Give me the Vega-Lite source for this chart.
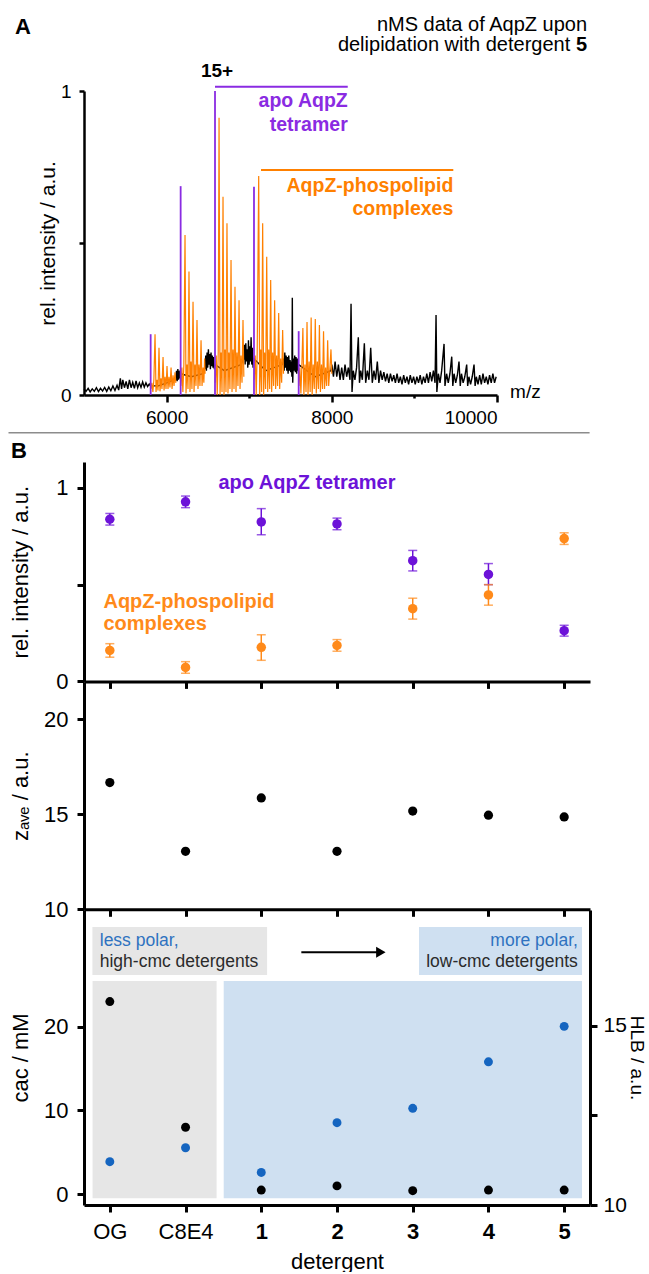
{
"$schema": "https://vega.github.io/schema/vega-lite/v6.json",
"padding": {"left": 7, "top": 15, "right": 2, "bottom": 0},
"config": {
  "font": "Liberation Sans",
  "view": {"stroke": null},
  "axis": {"grid": false, "domainColor": "#000", "tickColor": "#000", "labelColor": "#000", "titleColor": "#000", "titleFontWeight": "normal", "labelFont": "Liberation Sans", "titleFont": "Liberation Sans"}
},
"datasets": {
  "black": [
    {"m":5000,"i":0.02},{"m":5025,"i":0.012},{"m":5050,"i":0.022},{"m":5075,"i":0.01},{"m":5100,"i":0.02},{"m":5125,"i":0.012},{"m":5150,"i":0.024},{"m":5175,"i":0.011},{"m":5200,"i":0.022},{"m":5225,"i":0.013},{"m":5250,"i":0.025},{"m":5275,"i":0.012},{"m":5300,"i":0.026},{"m":5325,"i":0.014},{"m":5350,"i":0.03},{"m":5375,"i":0.015},{"m":5400,"i":0.032},{"m":5420,"i":0.016},{"m":5440,"i":0.055},{"m":5455,"i":0.02},{"m":5470,"i":0.05},{"m":5490,"i":0.024},{"m":5510,"i":0.045},{"m":5530,"i":0.02},{"m":5550,"i":0.05},{"m":5570,"i":0.024},{"m":5590,"i":0.042},{"m":5610,"i":0.022},{"m":5630,"i":0.046},{"m":5650,"i":0.024},{"m":5670,"i":0.04},{"m":5690,"i":0.025},{"m":5710,"i":0.043},{"m":5730,"i":0.026},{"m":5750,"i":0.04},{"m":5770,"i":0.028},{"m":5790,"i":0.036},{"m":5805,"i":0.03},
    {"m":5900,"i":0.03},{"m":6000,"i":0.04},{"m":6090,"i":0.05},
    {"m":6112,"i":0.05},{"m":6120,"i":0.08},{"m":6128,"i":0.045},{"m":6136,"i":0.085},{"m":6144,"i":0.05},{"m":6152,"i":0.08},{"m":6160,"i":0.055},{"m":6168,"i":0.07},
    {"m":6300,"i":0.06},{"m":6440,"i":0.07},
    {"m":6466,"i":0.09},{"m":6474,"i":0.13},{"m":6482,"i":0.08},{"m":6490,"i":0.14},{"m":6498,"i":0.09},{"m":6506,"i":0.15},{"m":6514,"i":0.1},{"m":6522,"i":0.135},{"m":6530,"i":0.085},{"m":6538,"i":0.14},{"m":6546,"i":0.095},{"m":6554,"i":0.13},{"m":6562,"i":0.09},{"m":6570,"i":0.125},{"m":6578,"i":0.085},{"m":6585,"i":0.1},
    {"m":6700,"i":0.08},{"m":6900,"i":0.1},
    {"m":6935,"i":0.12},{"m":6943,"i":0.165},{"m":6951,"i":0.1},{"m":6959,"i":0.17},{"m":6967,"i":0.11},{"m":6975,"i":0.15},{"m":6983,"i":0.09},{"m":6991,"i":0.18},{"m":6999,"i":0.1},{"m":7007,"i":0.16},{"m":7015,"i":0.11},{"m":7023,"i":0.19},{"m":7031,"i":0.1},{"m":7039,"i":0.155},{"m":7047,"i":0.09},{"m":7055,"i":0.12},
    {"m":7200,"i":0.08},{"m":7400,"i":0.1},
    {"m":7415,"i":0.12},{"m":7423,"i":0.08},{"m":7431,"i":0.14},{"m":7439,"i":0.09},{"m":7447,"i":0.13},{"m":7455,"i":0.08},{"m":7463,"i":0.125},{"m":7471,"i":0.07},{"m":7479,"i":0.13},{"m":7487,"i":0.08},{"m":7495,"i":0.115},{"m":7503,"i":0.075},{"m":7511,"i":0.11},{"m":7517,"i":0.06},{"m":7522,"i":0.32},{"m":7527,"i":0.04},{"m":7535,"i":0.12},{"m":7543,"i":0.08},{"m":7551,"i":0.13},{"m":7559,"i":0.075},{"m":7567,"i":0.125},{"m":7575,"i":0.07},{"m":7583,"i":0.12},{"m":7591,"i":0.08},{"m":7598,"i":0.1},
    {"m":7800,"i":0.06},{"m":7990,"i":0.08},
    {"m":8000,"i":0.1},{"m":8020,"i":0.06},{"m":8040,"i":0.11},{"m":8060,"i":0.06},{"m":8080,"i":0.1},{"m":8100,"i":0.05},{"m":8120,"i":0.09},{"m":8140,"i":0.05},{"m":8160,"i":0.1},{"m":8180,"i":0.06},{"m":8200,"i":0.09},{"m":8220,"i":0.05},{"m":8233,"i":0.3},{"m":8245,"i":0.01},{"m":8260,"i":0.08},{"m":8280,"i":0.05},{"m":8300,"i":0.09},{"m":8321,"i":0.19},{"m":8335,"i":0.04},{"m":8350,"i":0.08},{"m":8370,"i":0.05},{"m":8394,"i":0.17},{"m":8410,"i":0.04},{"m":8430,"i":0.08},{"m":8450,"i":0.05},{"m":8471,"i":0.155},{"m":8490,"i":0.04},{"m":8510,"i":0.08},{"m":8530,"i":0.05},{"m":8551,"i":0.11},{"m":8570,"i":0.04},{"m":8590,"i":0.08},{"m":8610,"i":0.05},{"m":8630,"i":0.075},{"m":8650,"i":0.045},{"m":8670,"i":0.07},{"m":8690,"i":0.04},{"m":8710,"i":0.07},{"m":8730,"i":0.045},{"m":8750,"i":0.065},{"m":8770,"i":0.04},{"m":8790,"i":0.07},{"m":8810,"i":0.04},{"m":8830,"i":0.06},{"m":8850,"i":0.035},{"m":8870,"i":0.065},{"m":8890,"i":0.04},{"m":8910,"i":0.06},{"m":8930,"i":0.035},{"m":8950,"i":0.065},{"m":8970,"i":0.04},{"m":8990,"i":0.06},{"m":9010,"i":0.035},{"m":9030,"i":0.06},{"m":9050,"i":0.04},{"m":9070,"i":0.065},{"m":9090,"i":0.035},{"m":9110,"i":0.06},{"m":9130,"i":0.04},{"m":9150,"i":0.07},{"m":9170,"i":0.04},{"m":9190,"i":0.075},{"m":9210,"i":0.045},{"m":9230,"i":0.08},{"m":9250,"i":0.04},{"m":9262,"i":0.263},{"m":9272,"i":0.01},{"m":9290,"i":0.07},{"m":9310,"i":0.04},{"m":9330,"i":0.08},{"m":9359,"i":0.168},{"m":9370,"i":0.03},{"m":9390,"i":0.07},{"m":9410,"i":0.04},{"m":9430,"i":0.07},{"m":9452,"i":0.126},{"m":9465,"i":0.03},{"m":9480,"i":0.07},{"m":9500,"i":0.04},{"m":9520,"i":0.065},{"m":9540,"i":0.11},{"m":9555,"i":0.03},{"m":9570,"i":0.07},{"m":9590,"i":0.04},{"m":9610,"i":0.06},{"m":9633,"i":0.1},{"m":9645,"i":0.03},{"m":9660,"i":0.06},{"m":9680,"i":0.035},{"m":9700,"i":0.06},{"m":9722,"i":0.1},{"m":9735,"i":0.03},{"m":9750,"i":0.06},{"m":9770,"i":0.035},{"m":9790,"i":0.065},{"m":9810,"i":0.035},{"m":9830,"i":0.07},{"m":9850,"i":0.04},{"m":9870,"i":0.06},{"m":9890,"i":0.035},{"m":9910,"i":0.065},{"m":9930,"i":0.04},{"m":9950,"i":0.07},{"m":9970,"i":0.04},{"m":9990,"i":0.06}
  ],
  "orange": [
    {"c":1,"m":5810,"i":0.02},{"c":1,"m":5822,"i":0.04},{"c":1,"m":5834,"i":0.01},{"c":1,"m":5846,"i":0.05},{"c":1,"m":5860,"i":0.2},{"c":1,"m":5872,"i":0.01},{"c":1,"m":5884,"i":0.05},{"c":1,"m":5896,"i":0.015},{"c":1,"m":5908,"i":0.155},{"c":1,"m":5920,"i":0.012},{"c":1,"m":5932,"i":0.055},{"c":1,"m":5944,"i":0.02},{"c":1,"m":5957,"i":0.125},{"c":1,"m":5969,"i":0.015},{"c":1,"m":5981,"i":0.06},{"c":1,"m":5993,"i":0.02},{"c":1,"m":6005,"i":0.095},{"c":1,"m":6017,"i":0.02},{"c":1,"m":6029,"i":0.06},{"c":1,"m":6041,"i":0.025},{"c":1,"m":6054,"i":0.09},{"c":1,"m":6066,"i":0.02},{"c":1,"m":6078,"i":0.065},{"c":1,"m":6090,"i":0.03},{"c":1,"m":6102,"i":0.075},{"c":1,"m":6112,"i":0.04},
    {"c":2,"m":6173,"i":0.03},{"c":2,"m":6185,"i":0.09},{"c":2,"m":6197,"i":0.01},{"c":2,"m":6209,"i":0.1},{"c":2,"m":6223,"i":0.526},{"c":2,"m":6235,"i":0.005},{"c":2,"m":6247,"i":0.1},{"c":2,"m":6259,"i":0.02},{"c":2,"m":6271,"i":0.406},{"c":2,"m":6283,"i":0.01},{"c":2,"m":6295,"i":0.11},{"c":2,"m":6307,"i":0.02},{"c":2,"m":6320,"i":0.307},{"c":2,"m":6332,"i":0.01},{"c":2,"m":6344,"i":0.1},{"c":2,"m":6356,"i":0.03},{"c":2,"m":6368,"i":0.247},{"c":2,"m":6380,"i":0.02},{"c":2,"m":6392,"i":0.1},{"c":2,"m":6404,"i":0.03},{"c":2,"m":6417,"i":0.18},{"c":2,"m":6429,"i":0.03},{"c":2,"m":6441,"i":0.09},{"c":2,"m":6451,"i":0.04},{"c":2,"m":6460,"i":0.12},{"c":2,"m":6466,"i":0.07},
    {"c":3,"m":6589,"i":0.04},{"c":3,"m":6601,"i":0.13},{"c":3,"m":6613,"i":0.0},{"c":3,"m":6625,"i":0.14},{"c":3,"m":6635,"i":0.912},{"c":3,"m":6647,"i":0.0},{"c":3,"m":6659,"i":0.14},{"c":3,"m":6671,"i":0.01},{"c":3,"m":6683,"i":0.652},{"c":3,"m":6695,"i":0.0},{"c":3,"m":6707,"i":0.15},{"c":3,"m":6719,"i":0.01},{"c":3,"m":6731,"i":0.565},{"c":3,"m":6743,"i":0.005},{"c":3,"m":6755,"i":0.14},{"c":3,"m":6767,"i":0.02},{"c":3,"m":6780,"i":0.444},{"c":3,"m":6792,"i":0.01},{"c":3,"m":6804,"i":0.15},{"c":3,"m":6816,"i":0.02},{"c":3,"m":6828,"i":0.356},{"c":3,"m":6840,"i":0.01},{"c":3,"m":6852,"i":0.14},{"c":3,"m":6864,"i":0.03},{"c":3,"m":6877,"i":0.312},{"c":3,"m":6889,"i":0.02},{"c":3,"m":6901,"i":0.13},{"c":3,"m":6913,"i":0.04},{"c":3,"m":6925,"i":0.247},{"c":3,"m":6935,"i":0.06},
    {"c":4,"m":7061,"i":0.05},{"c":4,"m":7073,"i":0.13},{"c":4,"m":7085,"i":0.0},{"c":4,"m":7097,"i":0.14},{"c":4,"m":7115,"i":0.72},{"c":4,"m":7127,"i":0.0},{"c":4,"m":7139,"i":0.15},{"c":4,"m":7151,"i":0.01},{"c":4,"m":7163,"i":0.565},{"c":4,"m":7175,"i":0.0},{"c":4,"m":7187,"i":0.14},{"c":4,"m":7199,"i":0.02},{"c":4,"m":7212,"i":0.455},{"c":4,"m":7224,"i":0.01},{"c":4,"m":7236,"i":0.15},{"c":4,"m":7248,"i":0.02},{"c":4,"m":7260,"i":0.378},{"c":4,"m":7272,"i":0.01},{"c":4,"m":7284,"i":0.14},{"c":4,"m":7296,"i":0.03},{"c":4,"m":7308,"i":0.312},{"c":4,"m":7320,"i":0.02},{"c":4,"m":7332,"i":0.13},{"c":4,"m":7344,"i":0.03},{"c":4,"m":7357,"i":0.27},{"c":4,"m":7369,"i":0.02},{"c":4,"m":7381,"i":0.12},{"c":4,"m":7393,"i":0.04},{"c":4,"m":7405,"i":0.214},{"c":4,"m":7415,"i":0.07},
    {"c":5,"m":7602,"i":0.03},{"c":5,"m":7614,"i":0.09},{"c":5,"m":7626,"i":0.005},{"c":5,"m":7638,"i":0.1},{"c":5,"m":7650,"i":0.22},{"c":5,"m":7662,"i":0.0},{"c":5,"m":7675,"i":0.1},{"c":5,"m":7688,"i":0.01},{"c":5,"m":7700,"i":0.24},{"c":5,"m":7712,"i":0.0},{"c":5,"m":7725,"i":0.11},{"c":5,"m":7738,"i":0.01},{"c":5,"m":7750,"i":0.255},{"c":5,"m":7762,"i":0.0},{"c":5,"m":7775,"i":0.1},{"c":5,"m":7788,"i":0.02},{"c":5,"m":7800,"i":0.25},{"c":5,"m":7812,"i":0.005},{"c":5,"m":7825,"i":0.11},{"c":5,"m":7838,"i":0.02},{"c":5,"m":7850,"i":0.23},{"c":5,"m":7862,"i":0.01},{"c":5,"m":7875,"i":0.1},{"c":5,"m":7888,"i":0.02},{"c":5,"m":7900,"i":0.21},{"c":5,"m":7912,"i":0.02},{"c":5,"m":7925,"i":0.09},{"c":5,"m":7938,"i":0.03},{"c":5,"m":7950,"i":0.18},{"c":5,"m":7962,"i":0.03},{"c":5,"m":7975,"i":0.08},{"c":5,"m":7990,"i":0.15},{"c":5,"m":8000,"i":0.07}
  ],
  "peaks": [
    {"m":5807,"i":0.2},{"m":6170,"i":0.687},{"m":6586,"i":1.0},{"m":7058,"i":0.685},{"m":7599,"i":0.21}
  ],
  "b1": [
    {"idx":0,"sp":"apo","v":0.838,"lo":0.808,"hi":0.868},
    {"idx":1,"sp":"apo","v":0.928,"lo":0.898,"hi":0.958},
    {"idx":2,"sp":"apo","v":0.824,"lo":0.758,"hi":0.893},
    {"idx":3,"sp":"apo","v":0.814,"lo":0.784,"hi":0.844},
    {"idx":4,"sp":"apo","v":0.624,"lo":0.571,"hi":0.677},
    {"idx":5,"sp":"apo","v":0.553,"lo":0.5,"hi":0.609},
    {"idx":6,"sp":"apo","v":0.262,"lo":0.234,"hi":0.29},
    {"idx":0,"sp":"complex","v":0.16,"lo":0.125,"hi":0.195},
    {"idx":1,"sp":"complex","v":0.072,"lo":0.042,"hi":0.102},
    {"idx":2,"sp":"complex","v":0.176,"lo":0.109,"hi":0.241},
    {"idx":3,"sp":"complex","v":0.186,"lo":0.156,"hi":0.216},
    {"idx":4,"sp":"complex","v":0.376,"lo":0.322,"hi":0.43},
    {"idx":5,"sp":"complex","v":0.447,"lo":0.394,"hi":0.5},
    {"idx":6,"sp":"complex","v":0.738,"lo":0.708,"hi":0.768}
  ],
  "b2": [
    {"idx":0,"z":16.67},{"idx":1,"z":13.05},{"idx":2,"z":15.86},{"idx":3,"z":13.05},{"idx":4,"z":15.17},{"idx":5,"z":14.95},{"idx":6,"z":14.86}
  ],
  "b3": [
    {"idx":0,"cac":23.0,"hlb":11.21},{"idx":1,"cac":8.0,"hlb":11.6},{"idx":2,"cac":0.5,"hlb":10.91},{"idx":3,"cac":1.0,"hlb":12.3},{"idx":4,"cac":0.43,"hlb":12.7},{"idx":5,"cac":0.5,"hlb":14.0},{"idx":6,"cac":0.5,"hlb":14.99}
  ]
},
"spacing": 0,
"vconcat": [
  {
    "width": 413, "height": 304,
    "layer": [
      {"data": {"name": "black"}, "mark": {"type": "line", "color": "#000", "strokeWidth": 1.4},
       "encoding": {
         "x": {"field": "m", "type": "quantitative", "scale": {"domain": [5000, 10000], "nice": false, "zero": false},
               "axis": {"values": [6000, 7000, 8000, 9000, 10000], "format": "d", "labelExpr": "datum.value % 2000 === 0 ? datum.label : ''", "tickSize": {"condition": {"test": "datum.value % 2000 === 0", "value": 7}, "value": 3}, "title": null, "labelFontSize": 19, "labelPadding": 6, "domainWidth": 2.5, "tickWidth": 2.5}},
         "y": {"field": "i", "type": "quantitative", "scale": {"domain": [0, 1], "nice": false, "zero": false},
               "axis": {"values": [0, 0.5, 1], "labelExpr": "datum.value == 0 ? '0' : datum.value == 1 ? '1' : ''", "tickSize": 5, "labelFontSize": 19, "labelPadding": 8, "title": "rel. intensity / a.u.", "titleFontSize": 21, "titlePadding": 2, "domainWidth": 2.5, "tickWidth": 2.5}}
       }},
      {"data": {"name": "orange"}, "mark": {"type": "line", "color": "#ff8000", "strokeWidth": 1.2},
       "encoding": {"x": {"field": "m", "type": "quantitative"}, "y": {"field": "i", "type": "quantitative"}, "detail": {"field": "c", "type": "nominal"}}},
      {"data": {"name": "peaks"}, "mark": {"type": "rule", "color": "#8a2be2", "strokeWidth": 1.8},
       "encoding": {"x": {"field": "m", "type": "quantitative"}, "y": {"field": "i", "type": "quantitative"}, "y2": {"datum": 0}}},
      {"data": {"values": [{"x1": 6586, "x2": 8193, "y": 1.014}]}, "mark": {"type": "rule", "color": "#8a2be2", "strokeWidth": 2},
       "encoding": {"x": {"field": "x1", "type": "quantitative"}, "x2": {"field": "x2"}, "y": {"field": "y", "type": "quantitative"}}},
      {"data": {"values": [{"x1": 7143, "x2": 9471, "y": 0.74}]}, "mark": {"type": "rule", "color": "#ff8000", "strokeWidth": 2},
       "encoding": {"x": {"field": "x1", "type": "quantitative"}, "x2": {"field": "x2"}, "y": {"field": "y", "type": "quantitative"}}},
      {"data": {"values": [{"x1": 4086, "x2": 11121, "y": -0.124}]}, "mark": {"type": "rule", "color": "#8c8c8c", "strokeWidth": 1.5},
       "encoding": {"x": {"field": "x1", "type": "quantitative"}, "x2": {"field": "x2"}, "y": {"field": "y", "type": "quantitative"}}},
      {"data": {"values": [{"x": 4261, "y": 1.21, "t": "A"}, {"x": 4213, "y": -0.184, "t": "B"}]},
       "mark": {"type": "text", "fontSize": 22, "fontWeight": "bold", "align": "center", "baseline": "middle", "color": "#000"},
       "encoding": {"x": {"field": "x", "type": "quantitative"}, "y": {"field": "y", "type": "quantitative"}, "text": {"field": "t", "type": "nominal"}}},
      {"data": {"values": [{"x": 11090, "y": 1.197, "t": "nMS data of AqpZ upon"}, {"x": 10887, "y": 1.132, "t": "delipidation with detergent"}]},
       "mark": {"type": "text", "fontSize": 20, "align": "right", "baseline": "alphabetic", "color": "#000"},
       "encoding": {"x": {"field": "x", "type": "quantitative"}, "y": {"field": "y", "type": "quantitative"}, "text": {"field": "t", "type": "nominal"}}},
      {"data": {"values": [{"x": 11090, "y": 1.132, "t": "5"}]},
       "mark": {"type": "text", "fontSize": 20, "fontWeight": "bold", "align": "right", "baseline": "alphabetic", "color": "#000"},
       "encoding": {"x": {"field": "x", "type": "quantitative"}, "y": {"field": "y", "type": "quantitative"}, "text": {"field": "t", "type": "nominal"}}},
      {"data": {"values": [{"x": 6610, "y": 1.046, "t": "15+"}]},
       "mark": {"type": "text", "fontSize": 19, "fontWeight": "bold", "align": "center", "baseline": "alphabetic", "color": "#000"},
       "encoding": {"x": {"field": "x", "type": "quantitative"}, "y": {"field": "y", "type": "quantitative"}, "text": {"field": "t", "type": "nominal"}}},
      {"data": {"values": [{"x": 8193, "y": 0.946, "t": "apo AqpZ\ntetramer"}]},
       "mark": {"type": "text", "fontSize": 19.5, "fontWeight": "bold", "align": "right", "baseline": "alphabetic", "color": "#8a2be2", "lineBreak": "\n", "lineHeight": 23.4},
       "encoding": {"x": {"field": "x", "type": "quantitative"}, "y": {"field": "y", "type": "quantitative"}, "text": {"field": "t", "type": "nominal"}}},
      {"data": {"values": [{"x": 9471, "y": 0.669, "t": "AqpZ-phospolipid\ncomplexes"}]},
       "mark": {"type": "text", "fontSize": 19.5, "fontWeight": "bold", "align": "right", "baseline": "alphabetic", "color": "#ff8000", "lineBreak": "\n", "lineHeight": 23.4},
       "encoding": {"x": {"field": "x", "type": "quantitative"}, "y": {"field": "y", "type": "quantitative"}, "text": {"field": "t", "type": "nominal"}}},
      {"data": {"values": [{"x": 10158, "y": 0.011, "t": "m/z"}]},
       "mark": {"type": "text", "fontSize": 19, "align": "left", "baseline": "middle", "color": "#000"},
       "encoding": {"x": {"field": "x", "type": "quantitative"}, "y": {"field": "y", "type": "quantitative"}, "text": {"field": "t", "type": "nominal"}}}
    ]
  },
  {
    "spacing": 0,
    "bounds": "flush",
    "vconcat": [
      {
        "width": 506, "height": 219.4,
        "layer": [
          {"data": {"name": "b1"}, "mark": {"type": "rule", "strokeWidth": 1.5},
           "encoding": {
             "x": {"field": "idx", "type": "quantitative", "scale": {"domain": [-0.341, 6.341], "nice": false, "zero": false},
                   "axis": {"values": [0, 1, 2, 3, 4, 5, 6], "labels": false, "tickSize": 7, "tickWidth": 3, "domainWidth": 3, "title": null}},
             "y": {"field": "lo", "type": "quantitative", "scale": {"domain": [0, 1.134], "nice": false, "zero": false},
                   "axis": {"values": [0, 0.5, 1], "labelExpr": "datum.value == 0 ? '0' : datum.value == 1 ? '1' : ''", "tickSize": 7, "tickWidth": 3, "domainWidth": 3, "labelFontSize": 22, "labelPadding": 9, "title": "rel. intensity / a.u.", "titleFontSize": 22, "titlePadding": 23.6}},
             "y2": {"field": "hi"},
             "color": {"field": "sp", "type": "nominal", "scale": {"domain": ["apo", "complex"], "range": ["#6c12d8", "#ff8a1a"]}, "legend": null}
           }},
          {"data": {"name": "b1"}, "mark": {"type": "tick", "orient": "horizontal", "size": 9, "thickness": 1.5},
           "encoding": {"x": {"field": "idx", "type": "quantitative"}, "y": {"field": "lo", "type": "quantitative"}, "color": {"field": "sp", "type": "nominal", "legend": null}}},
          {"data": {"name": "b1"}, "mark": {"type": "tick", "orient": "horizontal", "size": 9, "thickness": 1.5},
           "encoding": {"x": {"field": "idx", "type": "quantitative"}, "y": {"field": "hi", "type": "quantitative"}, "color": {"field": "sp", "type": "nominal", "legend": null}}},
          {"data": {"name": "b1"}, "mark": {"type": "point", "filled": true, "size": 90, "opacity": 1},
           "encoding": {"x": {"field": "idx", "type": "quantitative"}, "y": {"field": "v", "type": "quantitative"}, "color": {"field": "sp", "type": "nominal", "legend": null}}},
          {"data": {"values": [{"x": 1.434, "y": 0.996, "sp": "apo", "t": "apo AqpZ tetramer"}, {"x": -0.084, "y": 0.381, "sp": "complex", "t": "AqpZ-phospolipid\ncomplexes"}]},
           "mark": {"type": "text", "fontSize": 20, "fontWeight": "bold", "align": "left", "baseline": "alphabetic", "lineBreak": "\n", "lineHeight": 22},
           "encoding": {"x": {"field": "x", "type": "quantitative"}, "y": {"field": "y", "type": "quantitative"}, "text": {"field": "t", "type": "nominal"}, "color": {"field": "sp", "type": "nominal", "legend": null}}}
        ]
      },
      {
        "width": 506, "height": 227.3,
        "data": {"name": "b2"},
        "mark": {"type": "point", "filled": true, "size": 85, "color": "#000", "opacity": 1},
        "encoding": {
          "x": {"field": "idx", "type": "quantitative", "scale": {"domain": [-0.341, 6.341], "nice": false, "zero": false},
                "axis": {"values": [0, 1, 2, 3, 4, 5, 6], "labels": false, "tickSize": 7, "tickWidth": 3, "domainWidth": 3, "title": null}},
          "y": {"field": "z", "type": "quantitative", "scale": {"domain": [10, 21.96], "nice": false, "zero": false},
                "axis": {"values": [10, 15, 20], "tickSize": 7, "tickWidth": 3, "domainWidth": 3, "labelFontSize": 22, "labelPadding": 9, "title": "zₐᵥₑ / a.u.", "titleFontSize": 22, "titlePadding": 11.3}}
        }
      },
      {
        "width": 506, "height": 295,
        "layer": [
          {"layer": [
            {"data": {"values": [{"x1": -0.228, "x2": 1.41, "y1": -0.477, "y2": 25.45}, {"x1": -0.23, "x2": 2.077, "y1": 26.17, "y2": 31.9}]},
             "mark": {"type": "rect", "fill": "#e6e6e6"},
             "encoding": {"x": {"field": "x1", "type": "quantitative", "scale": {"domain": [-0.341, 6.341], "nice": false, "zero": false}}, "x2": {"field": "x2"},
                          "y": {"field": "y1", "type": "quantitative", "scale": {"domain": [-1.28, 33.93], "nice": false, "zero": false}}, "y2": {"field": "y2"}}},
            {"data": {"values": [{"x1": 1.504, "x2": 6.235, "y1": -0.477, "y2": 25.45}, {"x1": 4.083, "x2": 6.235, "y1": 26.17, "y2": 31.9}]},
             "mark": {"type": "rect", "fill": "#cfe0f1"},
             "encoding": {"x": {"field": "x1", "type": "quantitative"}, "x2": {"field": "x2"},
                          "y": {"field": "y1", "type": "quantitative"}, "y2": {"field": "y2"}}},
            {"data": {"values": [{"x": -0.133, "y": 29.63, "t": "less polar,"}]},
             "mark": {"type": "text", "fontSize": 17.5, "align": "left", "baseline": "alphabetic", "color": "#2e72c0"},
             "encoding": {"x": {"field": "x", "type": "quantitative"}, "y": {"field": "y", "type": "quantitative"}, "text": {"field": "t", "type": "nominal"}}},
            {"data": {"values": [{"x": -0.133, "y": 27.16, "t": "high-cmc detergents"}]},
             "mark": {"type": "text", "fontSize": 17.5, "align": "left", "baseline": "alphabetic", "color": "#2b2b2b"},
             "encoding": {"x": {"field": "x", "type": "quantitative"}, "y": {"field": "y", "type": "quantitative"}, "text": {"field": "t", "type": "nominal"}}},
            {"data": {"values": [{"x": 6.181, "y": 29.63, "t": "more polar,"}]},
             "mark": {"type": "text", "fontSize": 17.5, "align": "right", "baseline": "alphabetic", "color": "#2e72c0"},
             "encoding": {"x": {"field": "x", "type": "quantitative"}, "y": {"field": "y", "type": "quantitative"}, "text": {"field": "t", "type": "nominal"}}},
            {"data": {"values": [{"x": 6.181, "y": 27.16, "t": "low-cmc detergents"}]},
             "mark": {"type": "text", "fontSize": 17.5, "align": "right", "baseline": "alphabetic", "color": "#2b2b2b"},
             "encoding": {"x": {"field": "x", "type": "quantitative"}, "y": {"field": "y", "type": "quantitative"}, "text": {"field": "t", "type": "nominal"}}},
            {"data": {"values": [{"x1": 2.529, "x2": 3.55, "y": 28.88}]},
             "mark": {"type": "rule", "color": "#000", "strokeWidth": 2},
             "encoding": {"x": {"field": "x1", "type": "quantitative"}, "x2": {"field": "x2"}, "y": {"field": "y", "type": "quantitative"}}},
            {"data": {"values": [{"x": 3.579, "y": 28.88}]},
             "mark": {"type": "point", "shape": "triangle-right", "filled": true, "size": 120, "color": "#000", "opacity": 1},
             "encoding": {"x": {"field": "x", "type": "quantitative"}, "y": {"field": "y", "type": "quantitative"}}},
            {"data": {"name": "b3"},
             "mark": {"type": "point", "filled": true, "size": 80, "color": "#000", "opacity": 1},
             "encoding": {
               "x": {"field": "idx", "type": "quantitative",
                     "axis": {"values": [0, 1, 2, 3, 4, 5, 6], "labelExpr": "['OG','C8E4','1','2','3','4','5'][datum.value]", "labelFontWeight": {"condition": {"test": "datum.value >= 2", "value": "bold"}, "value": "normal"}, "labelFontSize": 22, "labelPadding": 9, "tickSize": 7, "tickWidth": 3, "domainWidth": 3, "title": "detergent", "titleFontSize": 22, "titlePadding": 9}},
               "y": {"field": "cac", "type": "quantitative",
                     "axis": {"values": [0, 10, 20], "tickSize": 7, "tickWidth": 3, "domainWidth": 3, "labelFontSize": 22, "labelPadding": 9, "title": "cac / mM", "titleFontSize": 22, "titlePadding": 11.3}}
             }}
          ]},
          {"data": {"name": "b3"},
           "mark": {"type": "point", "filled": true, "size": 80, "color": "#1565c0", "opacity": 1},
           "encoding": {
             "x": {"field": "idx", "type": "quantitative"},
             "y": {"field": "hlb", "type": "quantitative", "scale": {"domain": [10, 18.24], "nice": false, "zero": false},
                   "axis": {"orient": "right", "values": [10, 12.5, 15], "labelExpr": "datum.value == 12.5 ? '' : datum.label", "tickSize": 7, "tickWidth": 3, "domainWidth": 3, "labelFontSize": 21, "labelPadding": 6, "title": "HLB / a.u.", "titleFontSize": 19, "titlePadding": 0}}
           }}
        ],
        "resolve": {"scale": {"y": "independent"}}
      }
    ]
  }
]
}
